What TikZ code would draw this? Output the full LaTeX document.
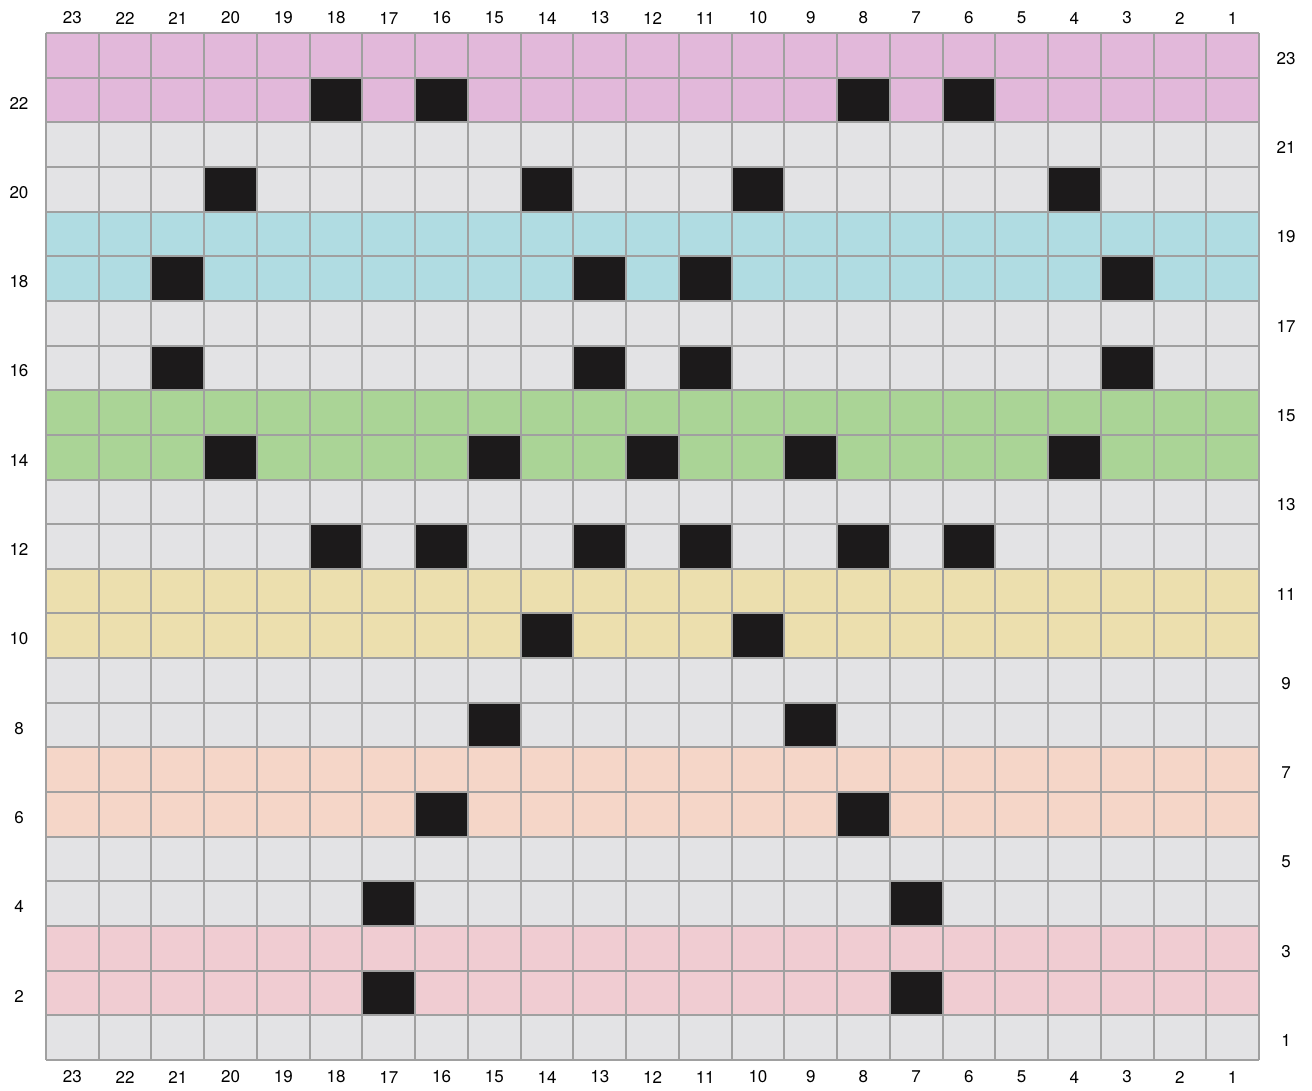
\documentclass[tikz,border=0pt]{standalone}
\usepackage{fontspec}
\setmainfont{TeX Gyre Heros}
\definecolor{lilac}{HTML}{E2B8DA}
\definecolor{cellgray}{HTML}{E3E3E5}
\definecolor{sky}{HTML}{B0DCE2}
\definecolor{leaf}{HTML}{AAD496}
\definecolor{sand}{HTML}{ECDFAE}
\definecolor{peach}{HTML}{F5D6C8}
\definecolor{rose}{HTML}{F0CCD2}
\definecolor{cellblack}{HTML}{1C1A1B}
\definecolor{linegray}{HTML}{A0A0A0}
\begin{document}
\begin{tikzpicture}[x=1pt,y=-1pt,
  gridline/.style={draw=linegray,line width=2pt},
  lab/.style={font=\fontsize{17}{20}\selectfont,inner sep=0pt,text=black}]
\def\gw{52.7391}
\def\gh{44.6522}
\fill[white] (0,0) rectangle (1312,1091);
\useasboundingbox (0,0) rectangle (1312,1091);
% base
\fill[cellgray] (46,33) rectangle (1259,1060);
% coloured bands
\foreach \k/\c in {0/lilac,2/sky,4/leaf,6/sand,8/peach,10/rose}
  \fill[\c] (46,{33+2*\k*\gh}) rectangle (1259,{33+(2*\k+2)*\gh});
% black cells
\foreach \c/\r in {18/22,16/22,8/22,6/22,
                   20/20,14/20,10/20,4/20,
                   21/18,13/18,11/18,3/18,
                   21/16,13/16,11/16,3/16,
                   20/14,15/14,12/14,9/14,4/14,
                   18/12,16/12,13/12,11/12,8/12,6/12,
                   14/10,10/10,
                   15/8,9/8,
                   16/6,8/6,
                   17/4,7/4,
                   17/2,7/2}
  \fill[cellblack] ({46+(23-\c)*\gw},{33+(23-\r)*\gh}) rectangle ++(\gw,\gh);
% grid lines
\foreach \i in {0,...,23}{
  \draw[gridline] ({46+\i*\gw},33) -- ({46+\i*\gw},1060);
  \draw[gridline] (46,{33+\i*\gh}) -- (1259,{33+\i*\gh});
}
% column labels
\foreach \i in {1,...,23}{
  \node[lab] (top\i) at ({46+(23-\i+0.5)*\gw},18) {\i};
  \node[lab] (bot\i) at ({46+(23-\i+0.5)*\gw},1077) {\i};
}
% row labels: even on the left, odd on the right
\foreach \r in {2,4,...,22}
  \node[lab] (left\r) at (19,{33+(23-\r+0.5)*\gh+3}) {\r};
\foreach \r in {1,3,...,23}
  \node[lab] (right\r) at (1286,{33+(23-\r+0.5)*\gh+3}) {\r};
\end{tikzpicture}
\end{document}
